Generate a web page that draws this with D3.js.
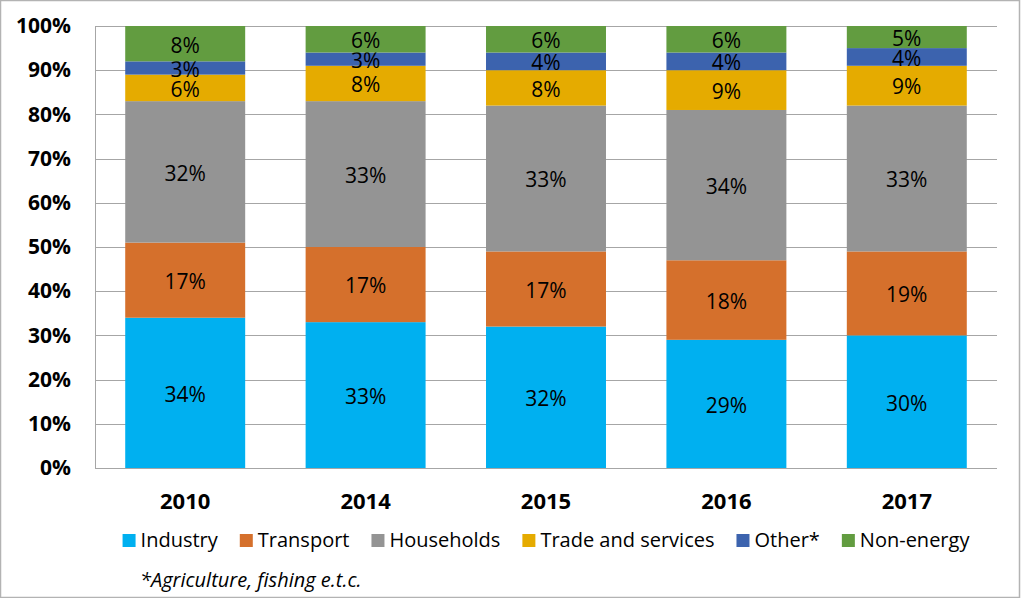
<!DOCTYPE html>
<html lang="en">
<head>
<meta charset="utf-8">
<title>energy use by sector</title>
<script src="https://d3js.org/d3.v7.min.js"></script>
<style>
  body{margin:0;background:#fff;font-family:"Open Sans",sans-serif;}
  #chart{width:1021px;height:598px;}
</style>
</head>
<body>
<div id="chart"></div>
<script>
// data (percent of total)
var years = ["2010","2014","2015","2016","2017"]
var sectors = ["Industry","Transport","Households","Trade and services","Other*","Non-energy"]
var industry   = [34,33,32,29,30]
var transport  = [17,17,17,18,19]
var households = [32,33,33,34,33]
var trade      = [6,8,8,9,9]
var other      = [3,3,4,4,4]
var nonEnergy  = [8,6,6,6,5]
var yTicks = [0,10,20,30,40,50,60,70,80,90,100]
var footnote = "*Agriculture, fishing e.t.c."

var colors = ["#00b0f0","#d5702c","#949494","#e5ab00","#3c63ae","#629c40"]
var series = [industry,transport,households,trade,other,nonEnergy]

var rows = years.map(function(y,i){
    var r = {year:y}
    sectors.forEach(function(s,j){ r[s] = series[j][i] })
    return r
})

var W = 1021, H = 598
var m = {left:95, right:24, top:26, bottom:130}

var svg = d3.select("#chart").append("svg").attr("width",W).attr("height",H)

// outer border
svg.append("rect").attr("x",0.5).attr("y",0.5).attr("width",W-2).attr("height",H-1)
    .attr("fill","#fff").attr("stroke","#b3b3b3").attr("stroke-width",1.5)

var x = d3.scaleBand().domain(years).range([m.left, W-m.right]).paddingInner(0.335).paddingOuter(0.1675)
var y = d3.scaleLinear().domain([0,100]).range([H-m.bottom, m.top])

// grid
svg.append("g").selectAll("line").data(yTicks).enter().append("line")
    .attr("x1",m.left).attr("x2",W-m.right)
    .attr("y1",function(d){return Math.round(y(d))+0.5}).attr("y2",function(d){return Math.round(y(d))+0.5})
    .attr("stroke","#a6a6a6").attr("stroke-width",1)

// y axis
var yAxis = svg.append("g").attr("transform","translate("+m.left+",0)")
    .call(d3.axisLeft(y).tickValues(yTicks).tickSize(0).tickPadding(24).tickFormat(function(d){return d+"%"}))
yAxis.select(".domain").attr("stroke","#a6a6a6")
yAxis.selectAll("text").attr("font-family","Open Sans, sans-serif").attr("font-size",21).attr("font-weight","bold").attr("fill","#000")

// bars
var stack = d3.stack().keys(sectors)(rows)
var layers = svg.append("g").selectAll("g").data(stack).enter().append("g")
    .attr("fill",function(d,i){return colors[i]})
layers.selectAll("rect").data(function(d){return d}).enter().append("rect")
    .attr("x",function(d){return x(d.data.year)})
    .attr("width",x.bandwidth())
    .attr("y",function(d){return y(d[1])})
    .attr("height",function(d){return y(d[0])-y(d[1])})

layers.selectAll("text").data(function(d){return d}).enter().append("text")
    .attr("x",function(d){return x(d.data.year)+x.bandwidth()/2})
    .attr("y",function(d){return (y(d[0])+y(d[1]))/2})
    .attr("dy","0.42em")
    .attr("text-anchor","middle")
    .attr("font-size",21)
    .attr("fill","#000")
    .text(function(d){return (d[1]-d[0])+"%"})

// bottom axis
var xAxis = svg.append("g").attr("transform","translate(0,"+(H-m.bottom)+")")
    .call(d3.axisBottom(x).tickSize(0).tickPadding(25))
xAxis.select(".domain").attr("stroke","#a6a6a6").attr("d","M"+m.left+",0.5H"+(W-m.right))
xAxis.selectAll("text").attr("font-family","Open Sans, sans-serif").attr("font-size",22).attr("font-weight","bold").attr("fill","#000")

// legend
var legend = svg.append("g")
var lx = 0
sectors.forEach(function(s,i){
    var g = legend.append("g").attr("transform","translate("+lx+",0)")
    g.append("rect").attr("x",0).attr("y",-13).attr("width",13).attr("height",13).attr("fill",colors[i])
    var t = g.append("text").attr("x",18).attr("y",0).attr("font-size",20).attr("fill","#000").text(s)
    lx += 18 + t.node().getComputedTextLength() + 22
})
lx -= 22
var cx = (m.left + W - m.right)/2
legend.attr("transform","translate("+(cx-lx/2)+",547)")

svg.append("text").attr("x",140).attr("y",587).attr("font-size",20).attr("font-style","italic").attr("fill","#000").text(footnote)
</script>
</body>
</html>
